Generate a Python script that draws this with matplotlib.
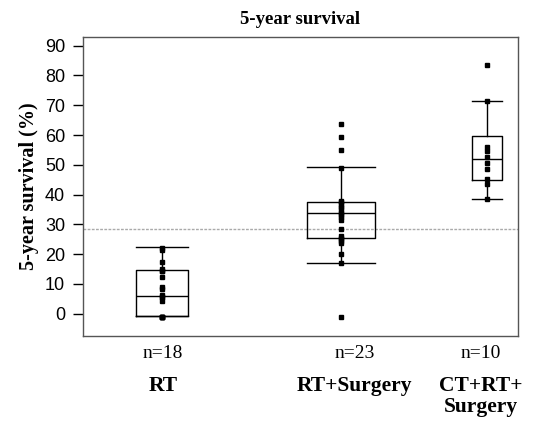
import matplotlib
matplotlib.use('Agg')
from matplotlib import pyplot as plt

groups = ['RT', 'RT+Surgery', 'CT+RT+\nSurgery']
n_labels = ['n=18', 'n=23', 'n=10']
positions = [18.1, 59.4, 92.9]
widths = [12.1, 15.6, 7.0]
label_x = [18.4, 62.5, 91.6]

q1 = [-0.8, 25.4, 44.9]
med = [5.8, 33.7, 51.8]
q3 = [14.6, 37.5, 59.7]
whislo = [-0.8, 16.9, 38.6]
whishi = [22.5, 49.3, 71.3]

pts_rt = [22.1, 21.3, 17.4, 15.1, 14.4, 12.5, 8.9, 8.2, 6.4, 5.7, 4.4,
          -1.0, -1.0, -1.0, -1.0, -1.0, 5.7, 14.4]
pts_rts = [63.6, 59.4, 55.1, 48.8, 37.8, 37.4, 36.8, 36.0, 35.4, 34.0, 33.7,
           33.0, 32.4, 31.5, 28.4, 26.2, 25.6, 25.1, 24.5, 23.8, 20.0, 17.1, -1.1]
pts_ct = [83.5, 71.3, 55.9, 54.5, 52.5, 50.5, 48.5, 45.1, 43.5, 38.6]
points = [pts_rt, pts_rts, pts_ct]

ref_line = 28.5

fig = plt.figure(figsize=(5.36, 4.26), dpi=100)
ax = fig.add_axes([0.1554, 0.2124, 0.8105, 0.6996])

stats = []
for i in range(len(groups)):
    stats.append({'q1': q1[i], 'med': med[i], 'q3': q3[i],
                  'whislo': whislo[i], 'whishi': whishi[i], 'fliers': []})

ax.bxp(stats, positions=positions, widths=widths, showfliers=False,
       boxprops=dict(color='black', linewidth=1.0),
       medianprops=dict(color='black', linewidth=1.0),
       whiskerprops=dict(color='black', linewidth=1.0),
       capprops=dict(color='black', linewidth=1.0),
       capwidths=widths, manage_ticks=False)

for i, p in enumerate(points):
    ax.plot([positions[i]] * len(p), p, linestyle='none', marker='s',
            markersize=3.5, color='black', zorder=3)

ax.axhline(ref_line, color='#aaaaaa', linewidth=1.0, linestyle=(0, (2, 1)), zorder=1)

ax.set_xlim(0, 100)
ax.set_ylim(-7.3, 92.75)
ax.set_yticks(range(0, 100, 10))
ax.set_xticks([])
ax.tick_params(axis='y', direction='out', length=7, width=1, labelsize=13, pad=6)
for lbl in ax.get_yticklabels():
    lbl.set_family('Liberation Sans')
for s in ax.spines.values():
    s.set_color('#555555')
    s.set_linewidth(1.0)

ax.set_title('5-year survival', family='Liberation Serif', fontweight='bold',
             fontsize=13.5, pad=10)
ax.set_ylabel('5-year survival (%)', family='Liberation Serif', fontweight='bold',
              fontsize=14.5, labelpad=4)

for i in range(len(groups)):
    ax.text(label_x[i], -13.2, n_labels[i], ha='center', va='center',
            family='Liberation Serif', fontsize=14)
    ax.text(label_x[i], -21.0, groups[i], ha='center', va='top',
            family='Liberation Serif', fontweight='bold', fontsize=15.5,
            linespacing=1.05)

plt.savefig('out.png', dpi=100)
